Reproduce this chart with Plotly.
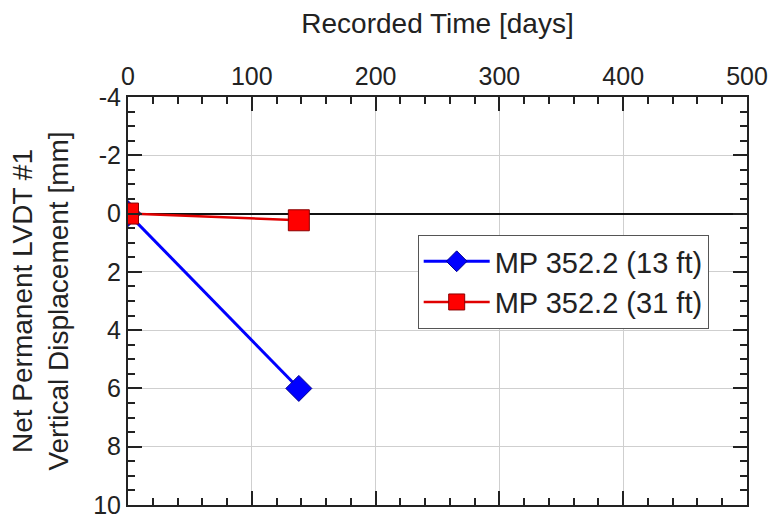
import plotly.graph_objects as go

time_13 = [0, 138]
disp_13 = [0, 6.0]
time_31 = [0, 138]
disp_31 = [0, 0.23]
name_13 = "MP 352.2 (13 ft)"
name_31 = "MP 352.2 (31 ft)"
x_ticks = [0, 100, 200, 300, 400, 500]
y_ticks = [-4, -2, 0, 2, 4, 6, 8, 10]
y_tick_labels = ["-4", "-2", "0", "2", "4", "6", "8", "10"]

fig = go.Figure()
fig.add_trace(go.Scatter(x=time_13, y=disp_13, name=name_13, mode="lines+markers",
                         line=dict(color="#0000ff", width=3),
                         marker=dict(symbol="diamond", size=20, color="#0000ff",
                                     line=dict(color="#00008b", width=1))))
fig.add_trace(go.Scatter(x=time_31, y=disp_31, name=name_31, mode="lines+markers",
                         line=dict(color="#e00000", width=2.5),
                         marker=dict(symbol="square", size=21, color="#ff0000",
                                     line=dict(color="#8b0000", width=1))))

font = "Liberation Sans, Arial, sans-serif"
fig.update_layout(
    width=780, height=531,
    margin=dict(l=128, r=26, t=97, b=17),
    plot_bgcolor="white", paper_bgcolor="white",
    font=dict(family=font, size=25, color="#222"),
    xaxis=dict(side="top", range=[0, 500], tickvals=x_ticks,
               title=dict(text="Recorded Time [days]", standoff=20, font=dict(size=28)),
               showline=True, linecolor="#222", linewidth=2, mirror="ticks",
               ticks="inside", ticklen=14, tickwidth=2, tickcolor="#222",
               showgrid=True, gridcolor="#cfcfcf", gridwidth=1, zeroline=False,
               minor=dict(ticks="inside", dtick=20, ticklen=7, tickwidth=2, tickcolor="#222", showgrid=False),
               tickfont=dict(size=25)),
    yaxis=dict(range=[10, -4], tickvals=y_ticks, ticktext=y_tick_labels, autorange=False,
               title=dict(text="Net Permanent LVDT #1<br>Vertical Displacement [mm]", standoff=16, font=dict(size=28)),
               showline=True, linecolor="#222", linewidth=2, mirror="ticks",
               ticks="inside", ticklen=14, tickwidth=2, tickcolor="#222",
               showgrid=True, gridcolor="#cfcfcf", gridwidth=1,
               zeroline=True, zerolinecolor="#111", zerolinewidth=1.5,
               minor=dict(ticks="inside", dtick=0.5, ticklen=7, tickwidth=2, tickcolor="#222", showgrid=False),
               tickfont=dict(size=25)),
    legend=dict(x=0.468, y=0.662, xanchor="left", yanchor="top",
                bordercolor="#555", borderwidth=1, bgcolor="white",
                font=dict(size=29), itemwidth=66, tracegroupgap=2),
    showlegend=True,
)

fig.write_html("out.html")
